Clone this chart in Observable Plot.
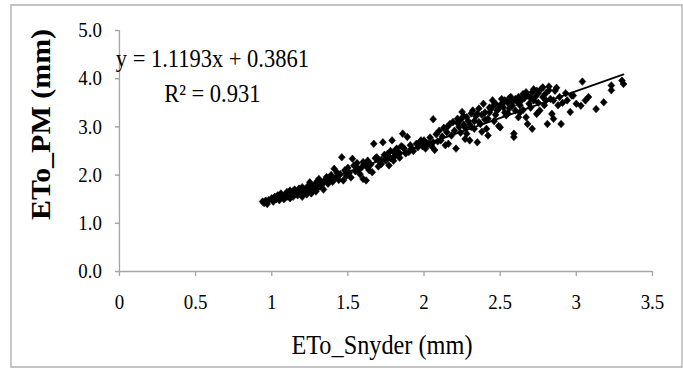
<!DOCTYPE html>
<html>
<head>
<meta charset="utf-8">
<script src="https://cdn.jsdelivr.net/npm/d3@7"></script>
<script src="https://cdn.jsdelivr.net/npm/@observablehq/plot@0.6"></script>
<style>
  html, body { margin: 0; padding: 0; background: #ffffff; }
  #chart { width: 683px; height: 369px; overflow: hidden; }
</style>
</head>
<body>
<div id="chart"></div>
<script>
// ---- data ----
const etoSnyder = [
  0.94,0.95,0.96,0.97,0.98,1.00,1.01,1.02,1.03,1.04,1.05,1.06,1.06,1.07,1.08,1.09,1.10,1.10,1.11,1.12,
  1.12,1.13,1.14,1.15,1.15,1.16,1.17,1.18,1.18,1.19,1.20,1.20,1.21,1.22,1.23,1.24,1.25,1.25,1.26,1.27,
  1.28,1.29,1.30,1.30,1.31,1.32,1.33,1.34,1.35,1.36,1.37,1.38,1.39,1.40,1.41,1.42,1.43,1.44,1.45,1.46,
  1.47,1.48,1.49,1.50,1.51,1.52,1.53,1.54,1.55,1.56,1.57,1.58,1.59,1.60,1.60,1.62,1.62,1.63,1.64,1.65,
  1.66,1.67,1.68,1.69,1.70,1.71,1.72,1.73,1.74,1.75,1.76,1.77,1.78,1.79,1.80,1.80,1.81,1.82,1.83,1.84,
  1.85,1.86,1.86,1.87,1.88,1.89,1.90,1.91,1.92,1.93,1.95,1.96,1.97,1.98,1.99,2.00,2.01,2.02,2.03,2.04,
  2.05,2.06,2.06,2.07,2.08,2.09,2.10,2.11,2.12,2.13,2.14,2.15,2.15,2.16,2.17,2.18,2.19,2.20,2.21,2.22,
  2.23,2.24,2.25,2.26,2.27,2.28,2.28,2.29,2.30,2.31,2.32,2.33,2.34,2.35,2.35,2.36,2.37,2.38,2.39,2.40,
  2.41,2.42,2.42,2.43,2.44,2.45,2.46,2.47,2.48,2.49,2.50,2.50,2.51,2.52,2.53,2.54,2.55,2.56,2.57,2.58,
  2.59,2.59,2.60,2.61,2.62,2.63,2.64,2.65,2.66,2.67,2.68,2.68,2.69,2.70,2.71,2.71,2.72,2.73,2.74,2.74,
  2.75,2.76,2.77,2.78,2.79,2.80,2.81,2.82,2.83,2.84,2.85,2.85,2.86,2.87,2.88,2.89,2.90,2.91,2.93,2.94,
  2.96,2.97,2.98,3.00,3.03,3.04,3.06,3.08,3.13,3.18,3.23,3.23,3.30,3.31,
  2.22,2.24,2.26,2.27,2.30,2.31,2.33,2.36,2.38,2.40,2.43,2.45,2.47,2.49,2.52,2.53,2.55,2.56,2.58,2.60,
  2.62,2.63,2.65,2.67,2.70,2.72,2.75,2.78,2.80,2.82,1.05,1.08,1.11,1.14,1.17,1.21,1.24,1.28,1.33,1.38,
  1.55,1.63,1.72,1.78,1.84
];
const etoPM = [
  1.45,1.42,1.47,1.40,1.48,1.52,1.45,1.55,1.50,1.58,1.48,1.53,1.62,1.56,1.50,1.60,1.55,1.65,1.58,1.52,
  1.68,1.62,1.55,1.60,1.70,1.64,1.58,1.72,1.62,1.67,1.55,1.75,1.63,1.70,1.60,1.78,1.68,1.85,1.62,1.74,
  1.80,1.66,1.72,1.88,1.92,1.78,1.84,1.70,1.90,1.96,1.82,1.88,2.00,1.86,2.13,1.95,2.05,1.90,2.02,2.37,
  1.89,2.10,1.98,2.15,2.05,1.95,2.34,2.20,2.08,2.25,2.12,2.02,2.16,2.27,1.92,1.89,2.20,2.30,2.10,2.22,
  2.06,2.65,2.35,2.37,2.18,2.28,2.23,2.68,2.42,2.30,2.44,2.20,2.35,2.72,2.30,2.48,2.40,2.55,2.48,2.36,
  2.60,2.86,2.58,2.55,2.45,2.79,2.48,2.62,2.55,2.50,2.65,2.58,2.68,2.72,2.60,2.72,2.55,2.66,2.65,2.78,
  2.60,2.68,3.16,2.52,2.85,2.70,2.92,2.72,2.80,2.98,2.62,2.89,2.99,2.65,3.06,2.82,3.10,2.92,2.55,3.17,
  3.00,2.88,3.31,3.05,2.75,3.20,2.86,3.12,2.72,3.00,3.34,2.96,3.22,3.27,2.68,3.10,3.06,2.90,3.48,3.30,
  2.96,3.17,2.82,3.40,3.37,3.55,3.12,3.25,3.34,3.02,2.99,3.45,3.58,3.41,3.30,3.24,3.50,3.38,3.62,3.44,
  2.86,2.79,3.34,3.52,3.20,3.45,3.55,3.35,3.60,3.20,3.65,3.06,3.48,3.40,3.72,2.96,3.55,3.62,3.75,3.27,
  3.50,3.34,3.79,3.62,3.45,3.70,3.06,3.84,3.58,3.27,3.55,3.17,3.75,3.81,3.45,3.62,3.06,3.50,3.70,3.55,
  3.31,3.65,3.65,3.48,3.44,3.94,3.55,3.62,3.37,3.51,3.86,3.76,3.96,3.89,
  3.08,3.15,3.22,2.98,3.05,3.28,3.12,3.38,3.25,3.15,3.30,3.42,3.48,3.38,3.50,3.55,3.28,3.60,3.52,3.58,
  3.62,3.30,3.68,3.72,3.60,3.78,3.70,3.82,3.55,3.76,1.57,1.55,1.62,1.66,1.65,1.68,1.72,1.76,1.80,1.92,
  2.18,2.15,2.32,2.50,2.45
];
const trendSlope = 1.1193;
const trendIntercept = 0.3861;
const xTicks = [0, 0.5, 1, 1.5, 2, 2.5, 3, 3.5];
const xTickLabels = ["0", "0.5", "1", "1.5", "2", "2.5", "3", "3.5"];
const yTicks = [0, 1, 2, 3, 4, 5];
const yTickLabels = ["0.0", "1.0", "2.0", "3.0", "4.0", "5.0"];
const xTitle = "ETo_Snyder (mm)";
const yTitle = "ETo_PM (mm)";
const equationText = "y = 1.1193x + 0.3861";
const r2Text = "R² = 0.931";

// ---- build ----
const pts = etoSnyder.map((x, i) => ({x, y: etoPM[i]}));
const xMin = d3.min(etoSnyder), xMax = d3.max(etoSnyder);
const trend = [xMin, xMax].map(x => ({x, y: trendSlope * x + trendIntercept}));

// the reference picture is squeezed horizontally; draw wider, then squeeze
const sx = 0.9;
const W = 683 / sx, H = 369;

const serif = "'Liberation Serif', 'Times New Roman', serif";
const axisGray = "#a6a6a6";

const chart = Plot.plot({
  width: W,
  height: H,
  marginLeft: 119 / sx,
  marginRight: 31 / sx,
  marginTop: 30,
  marginBottom: 98,
  style: {fontFamily: serif, background: "#ffffff", color: "#000"},
  x: {domain: [0, 3.5]},
  y: {domain: [0, 5]},
  marks: [
    Plot.ruleY([0], {stroke: axisGray, strokeWidth: 1.5}),
    Plot.ruleX([0], {stroke: axisGray, strokeWidth: 1.5}),
    Plot.axisX({
      ticks: xTicks,
      tickFormat: d => xTickLabels[xTicks.indexOf(d)],
      tickSize: 5, tickPadding: 18,
      stroke: axisGray, strokeWidth: 1.5, fill: "#000",
      fontSize: 21, label: null
    }),
    Plot.axisY({
      ticks: yTicks,
      tickFormat: d => yTickLabels[yTicks.indexOf(d)],
      tickSize: 4.5, tickPadding: 15,
      stroke: axisGray, strokeWidth: 1.5, fill: "#000",
      fontSize: 21, label: null
    }),
    Plot.dot(pts, {x: "x", y: "y", symbol: "diamond2", r: 3.4, fill: "#000", stroke: "#000", strokeWidth: 0.6}),
    Plot.line(trend, {x: "x", y: "y", stroke: "#000", strokeWidth: 1.8}),
    Plot.text([equationText], {x: 0.61, y: 4.40, textAnchor: "middle", lineAnchor: "middle", fontSize: 25, fill: "#000"}),
    Plot.text([r2Text], {x: 0.61, y: 3.68, textAnchor: "middle", lineAnchor: "middle", fontSize: 25, fill: "#000"}),
    Plot.text([xTitle], {frameAnchor: "bottom", dx: -4 / sx, dy: 73.5, textAnchor: "middle", lineAnchor: "middle", fontSize: 27, fill: "#000"}),
    Plot.text([yTitle], {frameAnchor: "left", dx: -78 / sx, dy: -26.5, rotate: -90, textAnchor: "middle", lineAnchor: "middle", fontSize: 30, fontWeight: "bold", fill: "#000"})
  ]
});

d3.select(chart).append("rect")
  .attr("x", 11 / sx).attr("y", 5).attr("width", 671 / sx).attr("height", 362)
  .attr("fill", "none").attr("stroke", "#b4b4b4").attr("stroke-width", 1.6);

chart.setAttribute("viewBox", `0 0 ${W} ${H}`);
chart.setAttribute("preserveAspectRatio", "none");
chart.setAttribute("width", 683);
chart.setAttribute("height", 369);
chart.style.width = "683px";
chart.style.height = "369px";
chart.style.maxWidth = "none";
chart.style.display = "block";

document.getElementById("chart").appendChild(chart);
</script>
</body>
</html>
